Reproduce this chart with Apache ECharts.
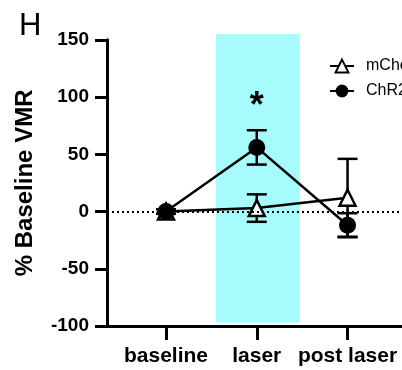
<!DOCTYPE html>
<html>
<head>
<meta charset="utf-8">
<script src="https://cdn.jsdelivr.net/npm/echarts@6/dist/echarts.min.js"></script>
<style>
  html, body { margin: 0; padding: 0; background: #fff; }
  #chart { width: 402px; height: 370px; }
</style>
</head>
<body>
<div id="chart"></div>
<script>
// categories sit at x = 1, 2, 3
var categories = ['baseline', 'laser', 'post laser'];
var catPos = [1, 2, 3];
var yTicks = [-100, -50, 0, 50, 100, 150];

var mchMean = [0, 3, 12];
var mchErr = [2, 12, 34];
var chrMean = [0, 56, -12];
var chrErr = [2, 15, 10.5];

// laser period shading [x0, x1, y0, y1]
var laserBand = [[1.55, 2.475, -97, 155]];
var starPos = [[2, 98]];

var font = 'Liberation Sans, Arial, sans-serif';
var myChart = echarts.init(document.getElementById('chart'));

function pts(mean) {
    return mean.map(function (v, i) { return [catPos[i], v]; });
}
function bars(mean, err) {
    return mean.map(function (v, i) { return [catPos[i], v - err[i], v + err[i]]; });
}

function errorBar(params, api) {
    var x = api.value(0);
    var lo = api.coord([x, api.value(1)]);
    var hi = api.coord([x, api.value(2)]);
    var w = 10;
    var st = {stroke: '#000', lineWidth: 2.5};
    return {
        type: 'group',
        children: [
            {type: 'line', shape: {x1: hi[0], y1: hi[1], x2: lo[0], y2: lo[1]}, style: st},
            {type: 'line', shape: {x1: hi[0] - w, y1: hi[1], x2: hi[0] + w, y2: hi[1]}, style: st},
            {type: 'line', shape: {x1: lo[0] - w, y1: lo[1], x2: lo[0] + w, y2: lo[1]}, style: st}
        ]
    };
}

myChart.setOption({
    animation: false,
    title: {
        text: 'H', left: 14, top: 6,
        textStyle: {fontSize: 31, fontWeight: 'normal', color: '#000', fontFamily: font}
    },
    legend: {
        orient: 'vertical', left: 324, top: 53,
        itemWidth: 24, itemHeight: 16, itemGap: 9,
        data: ['mCherry', 'ChR2'],
        textStyle: {fontSize: 16, color: '#000', fontFamily: font, padding: [0, 0, 0, 7]}
    },
    grid: {left: 107, right: 0, top: 39.8, bottom: 44},
    xAxis: {
        type: 'value', min: 0.35, max: 3.6,
        splitLine: {show: false},
        axisLine: {onZero: false, lineStyle: {color: '#000', width: 3}},
        axisTick: {length: 14, lineStyle: {color: '#000', width: 3}, customValues: catPos},
        axisLabel: {
            customValues: catPos, margin: 20,
            fontSize: 21, fontWeight: 'bold', color: '#000', fontFamily: font,
            formatter: function (v) { return categories[catPos.indexOf(v)] || ''; }
        }
    },
    yAxis: {
        type: 'value', min: -100, max: 150, interval: 50,
        name: '% Baseline VMR', nameLocation: 'middle', nameGap: 70,
        nameTextStyle: {fontSize: 24, fontWeight: 'bold', color: '#000', fontFamily: font},
        splitLine: {show: false},
        axisLine: {show: true, onZero: false, lineStyle: {color: '#000', width: 3}},
        axisTick: {show: true, length: 12, lineStyle: {color: '#000', width: 3}},
        axisLabel: {
            margin: 18, fontSize: 19, fontWeight: 'bold', color: '#000', fontFamily: font,
            formatter: function (v) { return yTicks.indexOf(v) >= 0 ? String(v) : ''; }
        }
    },
    series: [
        {
            type: 'custom', name: 'band', z: 0, clip: false,
            data: laserBand,
            encode: {x: [0, 1], y: [2, 3]},
            renderItem: function (params, api) {
                var a = api.coord([api.value(0), api.value(3)]);
                var b = api.coord([api.value(1), api.value(2)]);
                return {
                    type: 'rect',
                    shape: {x: a[0], y: a[1], width: b[0] - a[0], height: b[1] - a[1]},
                    style: {fill: '#a6fcfc'}
                };
            },
            markLine: {
                silent: true, symbol: 'none', label: {show: false},
                lineStyle: {type: [2, 3], color: '#000', width: 2},
                data: [{yAxis: 0}]
            }
        },
        {
            type: 'custom', name: 'mChErr', z: 3,
            data: bars(mchMean, mchErr),
            encode: {x: 0, y: [1, 2]},
            renderItem: errorBar
        },
        {
            type: 'custom', name: 'chrErr', z: 3,
            data: bars(chrMean, chrErr),
            encode: {x: 0, y: [1, 2]},
            renderItem: errorBar
        },
        {
            type: 'line', name: 'mCherry', z: 4,
            data: pts(mchMean),
            symbol: 'triangle', symbolSize: 16, showAllSymbol: true,
            lineStyle: {color: '#000', width: 2.5},
            itemStyle: {color: '#fff', borderColor: '#000', borderWidth: 2.5}
        },
        {
            type: 'line', name: 'ChR2', z: 5,
            data: pts(chrMean),
            symbol: 'circle', symbolSize: 17, showAllSymbol: true,
            lineStyle: {color: '#000', width: 2.5},
            itemStyle: {color: '#000', borderColor: '#000', borderWidth: 0}
        },
        {
            type: 'custom', name: 'star', z: 6,
            data: starPos,
            encode: {x: 0, y: 1},
            renderItem: function (params, api) {
                var p = api.coord([api.value(0), api.value(1)]);
                return {
                    type: 'text',
                    x: p[0], y: p[1] + 8,
                    style: {
                        text: '*', fill: '#000', align: 'center', verticalAlign: 'middle',
                        font: 'bold 36px ' + font
                    }
                };
            }
        }
    ]
});
</script>
</body>
</html>
